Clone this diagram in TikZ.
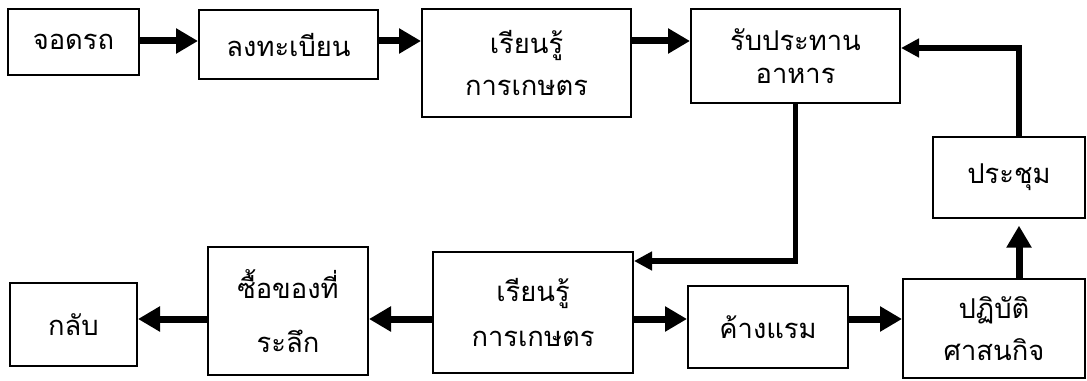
\documentclass[tikz,border=0pt]{standalone}
\usepackage{fontspec}
\newfontfamily\thaifont[Script=Thai]{Loma}
\usetikzlibrary{arrows.meta}

\begin{document}
\begin{tikzpicture}[x=0.75pt,y=0.75pt,yscale=-1,xscale=1,
  stepbox/.style={draw, line width=1.5pt, align=center, inner sep=0pt,
    font=\thaifont\fontsize{20.5}{24}\selectfont},
  flow/.style={line width=5.25pt, -{Triangle[length=16.5pt,width=18pt]}},
  link/.style={line width=4pt, -{Triangle[length=13.5pt,width=13.5pt]}}]
\useasboundingbox (0,0) rectangle (1087,381);

% Guide rows
\coordinate (toprow) at (0,41);
\coordinate (lowrow) at (0,319);
\coordinate (riser) at (1019,0);

% Text Node
\node [stepbox, minimum width=98.25pt, minimum height=49.5pt] (park) at (73.5,42) {จอดรถ};
% Text Node
\node [stepbox, minimum width=134.25pt, minimum height=51.75pt] (reg) at (288.5,44.5) {ลงทะเบียน};
% Text Node
\node [stepbox, minimum width=156.75pt, minimum height=81pt] (learnA) at (526.5,63) {เรียนรู้\\[8pt]การเกษตร};
% Text Node
\node [stepbox, minimum width=156.75pt, minimum height=70.5pt] (eat) at (795.5,56) {รับประทาน\\[1pt]อาหาร};
% Text Node
\node [stepbox, minimum width=114pt, minimum height=60.75pt] (meet) at (1009,177.5) {ประชุม};
% Text Node
\node [stepbox, minimum width=136.5pt, minimum height=74.25pt] (pray) at (994,328.5) {ปฏิบัติ\\[7.5pt]ศาสนกิจ};
% Text Node
\node [stepbox, minimum width=120pt, minimum height=61.5pt] (stay) at (768,327) {ค้างแรม};
% Text Node
\node [stepbox, minimum width=150pt, minimum height=90.75pt] (learnB) at (533,312.5) {เรียนรู้\\[10pt]การเกษตร};
% Text Node
\node [stepbox, minimum width=120pt, minimum height=96pt] (shop) at (288,311) {ซื้อของที่\\[17pt]ระลึก};
% Text Node
\node [stepbox, minimum width=95.25pt, minimum height=62.25pt] (home) at (73.5,324.5) {กลับ};

% Connection
\draw [flow] (park.east |- toprow) -- (reg.west |- toprow);
% Connection
\draw [flow] (reg.east |- toprow) -- (learnA.west |- toprow);
% Connection
\draw [flow] (learnA.east |- toprow) -- (eat.west |- toprow);
% Connection
\draw [link] (meet.north -| riser) |- ([yshift=-6pt]eat.east);
% Connection
\draw [link] (eat.south) |- ([yshift=7.5pt]learnB.north east);
% Connection
\draw [flow] (learnB.east |- lowrow) -- (stay.west |- lowrow);
% Connection
\draw [flow] (stay.east |- lowrow) -- (pray.west |- lowrow);
% Connection
\draw [flow, shorten >=5pt] (pray.north -| riser) -- (meet.south -| riser);
% Connection
\draw [flow] (learnB.west |- lowrow) -- (shop.east |- lowrow);
% Connection
\draw [flow] (shop.west |- lowrow) -- (home.east |- lowrow);

\end{tikzpicture}
\end{document}
